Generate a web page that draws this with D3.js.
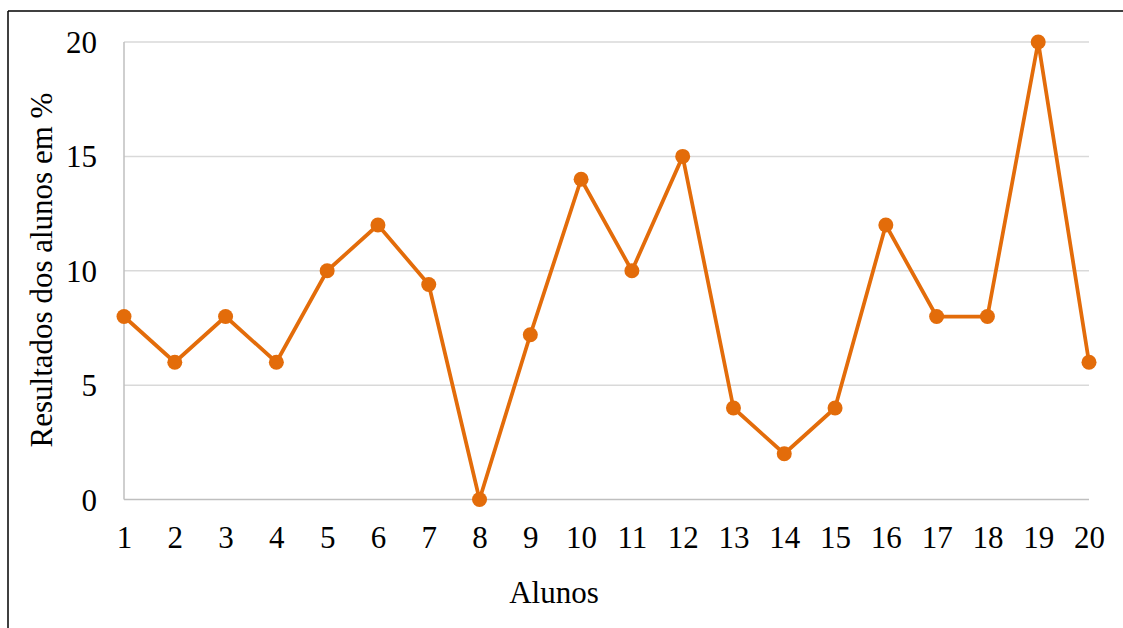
<!DOCTYPE html>
<html>
<head>
<meta charset="utf-8">
<script src="https://cdn.jsdelivr.net/npm/d3@7"></script>
<style>
html,body{margin:0;padding:0;background:#fff;}
svg{display:block;}
text{font-family:"Liberation Serif","Times New Roman",serif;fill:#000;}
</style>
</head>
<body>
<script>
const categories = ["1","2","3","4","5","6","7","8","9","10","11","12","13","14","15","16","17","18","19","20"];
const values = [8, 6, 8, 6, 10, 12, 9.4, 0, 7.2, 14, 10, 15, 4, 2, 4, 12, 8, 8, 20, 6];
const yTicks = [0, 5, 10, 15, 20];
const xTitle = "Alunos";
const yTitle = "Resultados dos alunos em %";

const W = 1123, H = 628;
const FS = 31;
const svg = d3.select("body").append("svg").attr("width", W).attr("height", H);

// outer frame (top and left)
svg.append("line").attr("x1", 8).attr("x2", W).attr("y1", 11).attr("y2", 11)
  .attr("stroke", "#000").attr("stroke-width", 1.5);
svg.append("line").attr("x1", 8).attr("x2", 8).attr("y1", 11).attr("y2", H)
  .attr("stroke", "#000").attr("stroke-width", 1.5);

const x = d3.scalePoint().domain(categories).range([124, 1089]);
const y = d3.scaleLinear().domain([0, 20]).range([499.5, 42]);

// gridlines
svg.append("g").selectAll("line").data(yTicks.filter(d => d > 0)).join("line")
  .attr("x1", 124).attr("x2", 1089)
  .attr("y1", d => y(d)).attr("y2", d => y(d))
  .attr("stroke", "#D9D9D9").attr("stroke-width", 1.5);

// axis lines
svg.append("line").attr("x1", 124).attr("x2", 1089).attr("y1", y(0)).attr("y2", y(0))
  .attr("stroke", "#BFBFBF").attr("stroke-width", 1.5);
svg.append("line").attr("x1", 124).attr("x2", 124).attr("y1", y(20)).attr("y2", y(0))
  .attr("stroke", "#BFBFBF").attr("stroke-width", 1.5);

// y tick labels
const yAxis = d3.axisLeft(y).tickValues(yTicks).tickSize(0).tickPadding(0).tickFormat(d3.format("d"));
const gy = svg.append("g").attr("transform", "translate(97,0)").call(yAxis);
gy.select(".domain").remove();
gy.selectAll("text").attr("font-size", FS).attr("font-family", "Liberation Serif").attr("fill", "#000")
  .attr("dy", "0.34em");

// x tick labels
const xAxis = d3.axisBottom(x).tickSize(0).tickPadding(0);
const gx = svg.append("g").attr("transform", "translate(0,526)").call(xAxis);
gx.select(".domain").remove();
gx.selectAll("text").attr("font-size", FS).attr("font-family", "Liberation Serif").attr("fill", "#000")
  .attr("dy", "0.71em");

// titles
svg.append("text").attr("x", 554).attr("y", 603).attr("text-anchor", "middle")
  .attr("font-size", FS).text(xTitle);
svg.append("text").attr("transform", "translate(52,270) rotate(-90)").attr("text-anchor", "middle")
  .attr("font-size", FS).text(yTitle);

// line
const color = "#E36C0A";
const line = d3.line().x((d, i) => x(categories[i])).y(d => y(d));
svg.append("path").datum(values).attr("d", line)
  .attr("fill", "none").attr("stroke", color).attr("stroke-width", 3.75)
  .attr("stroke-linejoin", "round");

svg.append("g").selectAll("circle").data(values).join("circle")
  .attr("cx", (d, i) => x(categories[i])).attr("cy", d => y(d)).attr("r", 7.5)
  .attr("fill", color);
</script>
</body>
</html>
